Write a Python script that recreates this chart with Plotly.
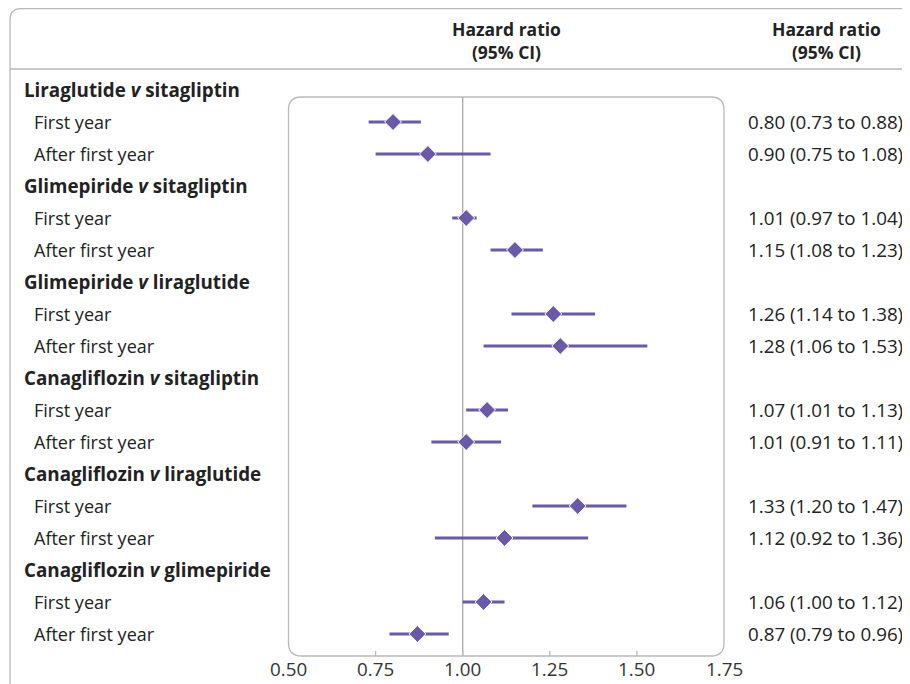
import plotly.graph_objects as go

# ---- data ----
comparisons = [
    "Liraglutide <i>v</i> sitagliptin",
    "Glimepiride <i>v</i> sitagliptin",
    "Glimepiride <i>v</i> liraglutide",
    "Canagliflozin <i>v</i> sitagliptin",
    "Canagliflozin <i>v</i> liraglutide",
    "Canagliflozin <i>v</i> glimepiride",
]
periods = ["First year", "After first year"]
hr = [0.80, 0.90, 1.01, 1.15, 1.26, 1.28, 1.07, 1.01, 1.33, 1.12, 1.06, 0.87]
lo = [0.73, 0.75, 0.97, 1.08, 1.14, 1.06, 1.01, 0.91, 1.20, 0.92, 1.00, 0.79]
hi = [0.88, 1.08, 1.04, 1.23, 1.38, 1.53, 1.13, 1.11, 1.47, 1.36, 1.12, 0.96]
tick_vals = [0.50, 0.75, 1.00, 1.25, 1.50, 1.75]
tick_text = ["0.50", "0.75", "1.00", "1.25", "1.50", "1.75"]
header_text = "<b>Hazard ratio<br>(95% CI)</b>"

# ---- layout helpers (pixel geometry, in reference-window pixels) ----
OFF = 8  # page body margin
W, H = 910, 684
X0PX, X1PX = 288.5 - OFF, 724.0 - OFF   # figure pixel positions of 0.50 and 1.75
XMIN, XMAX = 0.50, 1.75
scale = (X1PX - X0PX) / (XMAX - XMIN)
xr = [XMIN - X0PX / scale, XMAX + (W - X1PX) / scale]
ROW0, ROWH = 90.0 - OFF, 32.0
yr = [(H - ROW0) / ROWH, -ROW0 / ROWH]

def pxx(p):
    return XMIN + (p - OFF - X0PX) / scale

def pxy(p):
    return (p - OFF - ROW0) / ROWH

def paperx(p):
    return (p - OFF) / W

PURPLE = "#6a58a8"
GREY = "#b9b9b9"
TXT = "#222222"
FONT = "Open Sans"

# build row structure
row_y_points, labels = [], []
r = 0
for ci, comp in enumerate(comparisons):
    labels.append((r, "<b>" + comp + "</b>", 22, 18.8))
    r += 1
    for pi, per in enumerate(periods):
        labels.append((r, per, 32, 18))
        row_y_points.append(r)
        r += 1

fig = go.Figure()
fig.add_trace(go.Scatter(
    x=hr, y=row_y_points, mode="markers",
    marker=dict(symbol="diamond", size=13, color=PURPLE,
                line=dict(color="white", width=1)),
    error_x=dict(type="data", symmetric=False,
                 array=[h - m for h, m in zip(hi, hr)],
                 arrayminus=[m - l for m, l in zip(hr, lo)],
                 color=PURPLE, thickness=3, width=0),
    hoverinfo="skip", showlegend=False,
))

ann = []
for (ry, txt, xp, fs) in labels:
    ann.append(dict(x=paperx(xp), xref="paper", y=ry, yref="y", text=txt,
                    showarrow=False, xanchor="left", yanchor="middle",
                    font=dict(family=FONT, size=fs, color=TXT)))
for ry, h, l, u in zip(row_y_points, hr, lo, hi):
    ann.append(dict(x=paperx(746), xref="paper", y=ry, yref="y",
                    text=f"{h:.2f} ({l:.2f} to {u:.2f})",
                    showarrow=False, xanchor="left", yanchor="middle",
                    font=dict(family=FONT, size=18.8, color=TXT)))
for cx in (506, 826):
    ann.append(dict(x=paperx(cx), xref="paper", y=pxy(40), yref="y", text=header_text,
                    showarrow=False, xanchor="center", yanchor="middle",
                    align="center",
                    font=dict(family=FONT, size=17.5, color=TXT)))

shapes = []
# outer frame (rounded top-left, extends off page)
R = 11
fx, fy = 10, 8.7
p = (f"M {pxx(fx)},{pxy(H + 30)} L {pxx(fx)},{pxy(fy + R)} "
     f"Q {pxx(fx)},{pxy(fy)} {pxx(fx + R)},{pxy(fy)} L {pxx(W + 30)},{pxy(fy)}")
shapes.append(dict(type="path", path=p, xref="x", yref="y",
                   line=dict(color=GREY, width=1.3)))
# header separator
shapes.append(dict(type="line", xref="x", yref="y", x0=pxx(fx), x1=pxx(W + 30),
                   y0=pxy(69), y1=pxy(69), line=dict(color=GREY, width=1.3)))
# plot box (rounded)
bx0, bx1, by0, by1 = 288.5, 724.0, 97, 656
R = 13
p = (f"M {pxx(bx0 + R)},{pxy(by0)} L {pxx(bx1 - R)},{pxy(by0)} "
     f"Q {pxx(bx1)},{pxy(by0)} {pxx(bx1)},{pxy(by0 + R)} "
     f"L {pxx(bx1)},{pxy(by1 - R)} Q {pxx(bx1)},{pxy(by1)} {pxx(bx1 - R)},{pxy(by1)} "
     f"L {pxx(bx0 + R)},{pxy(by1)} Q {pxx(bx0)},{pxy(by1)} {pxx(bx0)},{pxy(by1 - R)} "
     f"L {pxx(bx0)},{pxy(by0 + R)} Q {pxx(bx0)},{pxy(by0)} {pxx(bx0 + R)},{pxy(by0)} Z")
shapes.append(dict(type="path", path=p, xref="x", yref="y",
                   line=dict(color=GREY, width=1.3), layer="below"))
# reference line at 1.00
shapes.append(dict(type="line", xref="x", yref="y", x0=1.0, x1=1.0,
                   y0=pxy(by0), y1=pxy(by1), line=dict(color="#a8a8a8", width=1.3),
                   layer="below"))
# inner tick marks
for tv in tick_vals[1:-1]:
    shapes.append(dict(type="line", xref="x", yref="y", x0=tv, x1=tv,
                       y0=pxy(by1), y1=pxy(by1 - 5), line=dict(color=GREY, width=1.3),
                       layer="below"))
# tick labels
for tv, tt in zip(tick_vals, tick_text):
    ann.append(dict(x=tv, xref="x", y=pxy(669), yref="y", text=tt,
                    showarrow=False, xanchor="center", yanchor="middle",
                    font=dict(family=FONT, size=18.8, color="#333333")))

fig.update_layout(
    width=W, height=H, margin=dict(l=0, r=0, t=0, b=0),
    paper_bgcolor="white", plot_bgcolor="white",
    xaxis=dict(range=xr, visible=False, fixedrange=True),
    yaxis=dict(range=yr, visible=False, fixedrange=True),
    annotations=ann, shapes=shapes, showlegend=False,
)
fig.write_html("out.html")
